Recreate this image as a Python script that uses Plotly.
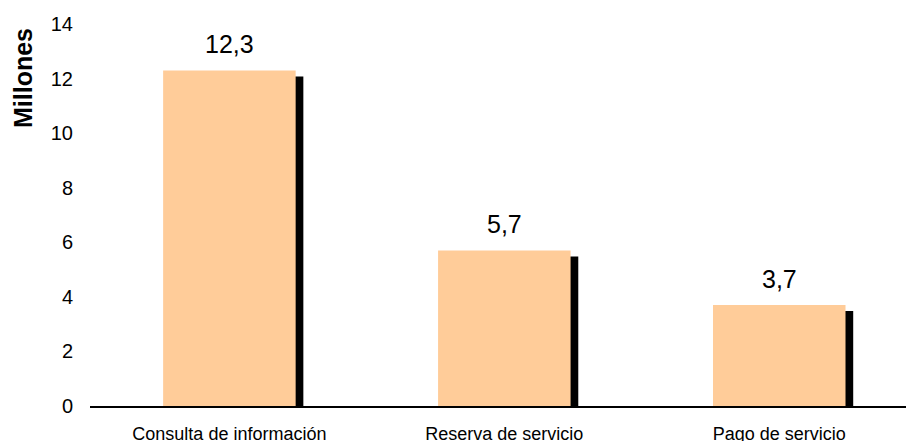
import plotly.graph_objects as go

categories = ["Consulta de información", "Reserva de servicio", "Pago de servicio"]
values = [12.3, 5.7, 3.7]
value_labels = ["12,3", "5,7", "3,7"]
y_ticks = [0, 2, 4, 6, 8, 10, 12, 14]

FONT = "Liberation Sans, Arial, sans-serif"
bar_w = 0.482
shadow_dx = 0.028
shadow_dy = 0.22

fig = go.Figure()
# shadow bars
fig.add_trace(go.Bar(
    x=categories, y=[v - shadow_dy for v in values],
    width=bar_w, offset=-bar_w / 2 + shadow_dx,
    marker=dict(color="black", line=dict(width=0)),
    hoverinfo="skip", showlegend=False,
))
fig.add_trace(go.Bar(
    x=categories, y=values,
    width=bar_w, offset=-bar_w / 2,
    marker=dict(color="#FFCC99", line=dict(width=0)),
    showlegend=False,
))
for c, v, t in zip(categories, values, value_labels):
    fig.add_annotation(x=c, y=v, text=t, showarrow=False, yanchor="bottom",
                       yshift=10, font=dict(size=25, color="black", family=FONT))

fig.add_annotation(xref="paper", yref="paper", x=(23 - 90) / 816, y=(406 - 78) / 382,
                   text="<b>Millones</b>", textangle=-90, showarrow=False,
                   xanchor="center", yanchor="middle",
                   font=dict(size=25, color="black", family=FONT))

fig.update_layout(
    width=906, height=441,
    margin=dict(l=90, r=0, t=24, b=35),
    barmode="overlay",
    plot_bgcolor="white", paper_bgcolor="white",
    font=dict(family=FONT, color="black"),
    xaxis=dict(
        range=[-0.507, 2.461],
        showline=True, linecolor="black", linewidth=1.5,
        ticks="outside", ticklen=11, tickcolor="rgba(0,0,0,0)",
        tickfont=dict(size=18), automargin=False, showgrid=False,
    ),
    yaxis=dict(
        range=[0, 14], tickvals=y_ticks, showgrid=False, zeroline=False,
        ticks="outside", ticklen=12, tickcolor="rgba(0,0,0,0)",
        tickfont=dict(size=20), automargin=False,
    ),
)
fig.write_html("out.html", config={"displayModeBar": False},
               post_script="document.body.style.margin='0';")
